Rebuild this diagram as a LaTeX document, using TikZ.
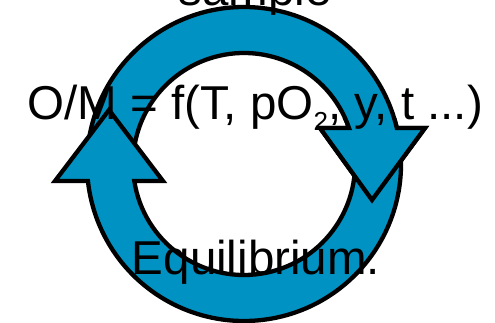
\documentclass[tikz,border=0pt]{standalone}
\usepackage{fontspec}
\setmainfont{Liberation Sans}
\definecolor{ringblue}{RGB}{0,146,194}
\begin{document}
\begin{tikzpicture}[x=1pt,y=1pt,
  arrowshape/.style={fill=ringblue,draw=black,line width=4.3pt,line join=miter},
  lbl/.style={font=\fontsize{47.5}{47.5}\selectfont,anchor=base,inner sep=0pt}]
\useasboundingbox (0,0) rectangle (495,-322);
\begin{scope}[shift={(244,-164)}]
  % upper arrow (tail at left, head at right pointing down)
  \draw[arrowshape] (175:157) arc[start angle=175,end angle=13.26,radius=157]
    -- (181,36) -- (128,-36) -- (76,36) -- (18.92:111)
    arc[start angle=18.92,end angle=175,radius=111] -- cycle;
  % lower arrow (tail at right, head at left pointing up)
  \draw[arrowshape] (7:157) arc[start angle=7,end angle=-173.78,radius=157]
    -- (-189,-17) -- (-135,54) -- (-81,-17) -- (-171.19:111)
    arc[start angle=-171.19,end angle=7,radius=111] -- cycle;
  % upper arrow head again, over the lower tail
  \begin{scope}
    \clip (60,46) rectangle (200,-46);
    \draw[arrowshape] (175:157) arc[start angle=175,end angle=13.26,radius=157]
      -- (181,36) -- (128,-36) -- (76,36) -- (18.92:111)
      arc[start angle=18.92,end angle=175,radius=111] -- cycle;
  \end{scope}
\end{scope}
\node[lbl] (sample) at (255,-5) {sample};
\node[lbl] (om) at (255,-119) {O/M = f(T, pO\raisebox{-11pt}{\fontsize{26}{26}\selectfont 2}, y, t ...)};
\node[lbl] (eq) at (256,-274) {Equilibrium.};
\end{tikzpicture}
\end{document}
